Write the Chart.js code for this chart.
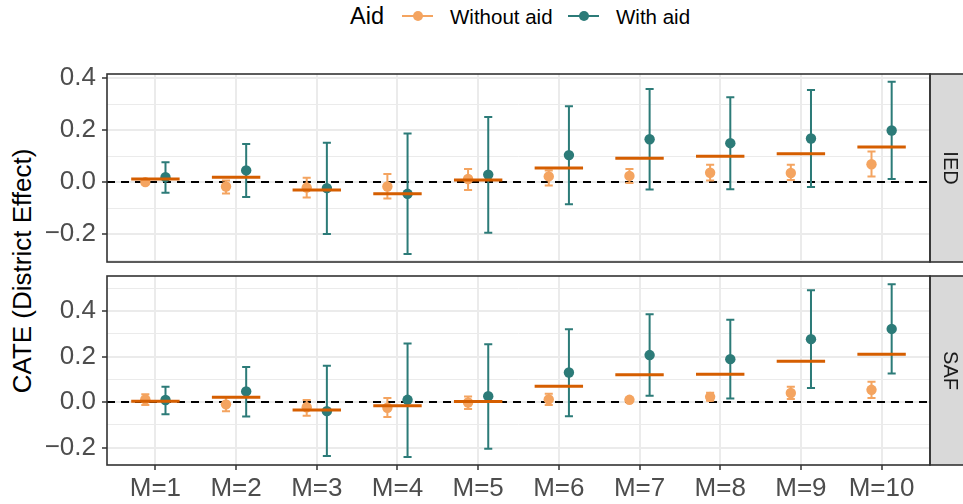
<!DOCTYPE html>
<html>
<head>
<meta charset="utf-8">
<title>CATE by number of districts</title>
<script src="https://cdn.jsdelivr.net/npm/chart.js@4/dist/chart.umd.min.js"></script>
<style>
  html, body { margin: 0; padding: 0; background: #fff; }
  #wrap { position: relative; width: 963px; height: 504px; overflow: hidden;
          font-family: "Liberation Sans", Arial, Helvetica, sans-serif; }
  canvas { position: absolute; left: 0; }
  .lg { position: absolute; white-space: nowrap; line-height: 1; color: #000; }
  .key { position: absolute; width: 31px; height: 2px; }
  .key i { position: absolute; left: 11px; top: -4px; width: 10px; height: 10px; border-radius: 50%; }
  #ytitle { position: absolute; left: 22px; top: 271px; white-space: nowrap; color: #000;
            font-size: 26px; line-height: 1; transform: translate(-50%, -50%) rotate(-90deg); }
</style>
</head>
<body>
<div id="wrap">
  <span class="lg" style="left:350px;top:5px;font-size:23.5px;">Aid</span>
  <span class="key" style="left:402px;top:15px;background:#F4A460;"><i style="background:#F4A460;"></i></span>
  <span class="lg" style="left:450px;top:6.5px;font-size:20.5px;">Without aid</span>
  <span class="key" style="left:568px;top:15px;background:#2C7B78;"><i style="background:#2C7B78;"></i></span>
  <span class="lg" style="left:616px;top:6.5px;font-size:20.5px;">With aid</span>
  <div id="ytitle">CATE (District Effect)</div>
  <canvas id="ied" width="963" height="280" style="top:0px;"></canvas>
  <canvas id="saf" width="963" height="248" style="top:256px;"></canvas>
</div>
<script>
// Categories: number of districts M
const CATEGORIES = ['M=1', 'M=2', 'M=3', 'M=4', 'M=5', 'M=6', 'M=7', 'M=8', 'M=9', 'M=10'];

// IED panel
const IED_WITHOUT    = [0.000, -0.017, -0.021, -0.017, 0.012, 0.022, 0.024, 0.036, 0.035, 0.069];
const IED_WITHOUT_LO = [-0.008, -0.044, -0.059, -0.063, -0.030, -0.013, -0.003, 0.006, 0.008, 0.022];
const IED_WITHOUT_HI = [0.008, 0.006, 0.017, 0.031, 0.051, 0.045, 0.051, 0.067, 0.067, 0.118];
const IED_WITH       = [0.019, 0.045, -0.023, -0.045, 0.029, 0.104, 0.165, 0.150, 0.168, 0.199];
const IED_WITH_LO    = [-0.041, -0.057, -0.200, -0.277, -0.195, -0.085, -0.028, -0.027, -0.019, 0.012];
const IED_WITH_HI    = [0.077, 0.147, 0.152, 0.187, 0.251, 0.292, 0.359, 0.327, 0.355, 0.387];
const IED_POOLED     = [0.012, 0.019, -0.030, -0.045, 0.008, 0.054, 0.092, 0.100, 0.109, 0.135];

// SAF panel
const SAF_WITHOUT    = [0.012, -0.010, -0.023, -0.025, -0.002, 0.012, 0.010, 0.023, 0.040, 0.054];
const SAF_WITHOUT_LO = [-0.013, -0.040, -0.060, -0.066, -0.031, -0.013, 0.005, 0.006, 0.013, 0.018];
const SAF_WITHOUT_HI = [0.034, 0.021, 0.009, 0.018, 0.025, 0.037, 0.015, 0.041, 0.067, 0.089];
const SAF_WITH       = [0.009, 0.047, -0.040, 0.010, 0.026, 0.130, 0.207, 0.189, 0.277, 0.322];
const SAF_WITH_LO    = [-0.054, -0.063, -0.237, -0.242, -0.205, -0.062, 0.028, 0.016, 0.062, 0.126];
const SAF_WITH_HI    = [0.067, 0.154, 0.160, 0.258, 0.255, 0.321, 0.387, 0.362, 0.492, 0.519];
const SAF_POOLED     = [0.004, 0.021, -0.035, -0.016, 0.003, 0.070, 0.120, 0.122, 0.180, 0.210];

// Axis ticks (major ones get labels, minor ones only a light grid line)
const IED_TICKS = [-0.3, -0.2, -0.1, 0.0, 0.1, 0.2, 0.3, 0.4];
const SAF_TICKS = [-0.2, -0.1, 0.0, 0.1, 0.2, 0.3, 0.4, 0.5];
const IED_RANGE = [-0.3077, 0.4165];
const SAF_RANGE = [-0.277, 0.555];

const FONT = '"Liberation Sans", Arial, Helvetica, sans-serif';
const COL_WITHOUT = '#F4A460';
const COL_WITH = '#2C7B78';
const COL_POOLED = '#D55E00';
const DODGE = 0.125;   // horizontal offset of the two groups
const HALF_SEG = 0.3;  // half length of the pooled-estimate bar
const CAP = 0.05;      // half width of error bar caps

const isMajor = v => Math.abs(v / 0.2 - Math.round(v / 0.2)) < 1e-6;
const fmt = v => (v < 0 ? '\u2212' : '') + Math.abs(v).toFixed(1);

const panelDecor = {
  id: 'panelDecor',
  beforeDatasetsDraw(chart) {
    const { ctx, chartArea: a, scales: { y } } = chart;
    const py = y.getPixelForValue(0);
    ctx.save();
    ctx.beginPath();
    ctx.rect(a.left, a.top, a.right - a.left, a.bottom - a.top);
    ctx.clip();
    ctx.strokeStyle = '#000';
    ctx.lineWidth = 2;
    ctx.setLineDash([8, 6]);
    ctx.beginPath();
    ctx.moveTo(a.left, py);
    ctx.lineTo(a.right, py);
    ctx.stroke();
    ctx.restore();
  },
  beforeDatasetDraw(chart, args) {
    const ds = chart.data.datasets[args.index];
    if (!ds.errLo) return;
    const { ctx, scales: { x, y } } = chart;
    ctx.save();
    ctx.strokeStyle = ds.backgroundColor;
    ctx.lineWidth = 2;
    ds.data.forEach((p, i) => {
      const px = x.getPixelForValue(p.x);
      const x0 = x.getPixelForValue(p.x - CAP);
      const x1 = x.getPixelForValue(p.x + CAP);
      const yl = y.getPixelForValue(ds.errLo[i]);
      const yh = y.getPixelForValue(ds.errHi[i]);
      ctx.beginPath();
      ctx.moveTo(px, yl); ctx.lineTo(px, yh);
      ctx.moveTo(x0, yl); ctx.lineTo(x1, yl);
      ctx.moveTo(x0, yh); ctx.lineTo(x1, yh);
      ctx.stroke();
    });
    ctx.restore();
  },
  afterDraw(chart, args, opts) {
    const { ctx, chartArea: a } = chart;
    ctx.save();
    // facet strip on the right
    ctx.fillStyle = '#D9D9D9';
    ctx.fillRect(a.right, a.top, 45, a.bottom - a.top);
    ctx.strokeStyle = '#333';
    ctx.lineWidth = 1.6;
    ctx.strokeRect(a.right, a.top, 45, a.bottom - a.top);
    // panel border
    ctx.strokeRect(a.left, a.top, a.right - a.left, a.bottom - a.top);
    ctx.translate(950, (a.top + a.bottom) / 2);
    ctx.rotate(Math.PI / 2);
    ctx.fillStyle = '#1A1A1A';
    ctx.font = '20px ' + FONT;
    ctx.textAlign = 'center';
    ctx.textBaseline = 'middle';
    ctx.fillText(opts.label, 0, 0);
    ctx.restore();
  }
};

function points(values, offset) {
  return values.map((v, i) => ({ x: i + offset, y: v }));
}

function pooledBars(values) {
  const out = [];
  values.forEach((v, i) => {
    out.push({ x: i - HALF_SEG, y: v }, { x: i + HALF_SEG, y: v }, { x: i + HALF_SEG, y: null });
  });
  return out;
}

function panel(canvasId, s, ticks, range, label, padTop, xHeight, showX) {
  return new Chart(document.getElementById(canvasId), {
    type: 'scatter',
    data: {
      datasets: [
        { type: 'line', label: 'Pooled', data: pooledBars(s.pooled), borderColor: COL_POOLED,
          borderWidth: 3, pointRadius: 0, spanGaps: false, fill: false },
        { label: 'With aid', data: points(s.withAid, DODGE), backgroundColor: COL_WITH,
          borderWidth: 0, pointRadius: 5.2, errLo: s.withLo, errHi: s.withHi },
        { label: 'Without aid', data: points(s.without, -DODGE), backgroundColor: COL_WITHOUT,
          borderWidth: 0, pointRadius: 5.2, errLo: s.withoutLo, errHi: s.withoutHi }
      ]
    },
    options: {
      responsive: false,
      animation: false,
      devicePixelRatio: 1,
      layout: { padding: { top: padTop, right: 33, left: 0, bottom: 0 } },
      plugins: { legend: { display: false }, tooltip: { enabled: false }, panelDecor: { label } },
      scales: {
        x: {
          type: 'linear', min: -0.6, max: 9.6,
          afterBuildTicks: sc => { sc.ticks = CATEGORIES.map((_, i) => ({ value: i })); },
          afterFit: sc => { sc.height = xHeight; sc.paddingLeft = 0; sc.paddingRight = 0; },
          border: { display: false },
          grid: { color: '#EBEBEB', lineWidth: 2, drawTicks: showX, tickLength: 5,
                  tickColor: '#333', tickWidth: 1.5 },
          ticks: { display: showX, autoSkip: false, maxRotation: 0, padding: 3, color: '#4D4D4D',
                   font: { size: 26, family: FONT }, callback: v => CATEGORIES[v] }
        },
        y: {
          type: 'linear', min: range[0], max: range[1],
          afterBuildTicks: sc => { sc.ticks = ticks.map(v => ({ value: v })); },
          afterFit: sc => { sc.width = 107; sc.paddingTop = 0; sc.paddingBottom = 0; },
          border: { display: false },
          grid: {
            color: '#EBEBEB',
            lineWidth: c => (c.tick && isMajor(c.tick.value)) ? 2 : 1,
            tickLength: 5,
            tickWidth: 1.5,
            tickColor: c => (c.tick && isMajor(c.tick.value)) ? '#333' : 'rgba(0,0,0,0)'
          },
          ticks: { autoSkip: false, padding: 6, color: '#4D4D4D', font: { size: 26, family: FONT },
                   callback: v => isMajor(v) ? fmt(v) : '' }
        }
      }
    },
    plugins: [panelDecor]
  });
}

panel('ied', {
  without: IED_WITHOUT, withoutLo: IED_WITHOUT_LO, withoutHi: IED_WITHOUT_HI,
  withAid: IED_WITH, withLo: IED_WITH_LO, withHi: IED_WITH_HI, pooled: IED_POOLED
}, IED_TICKS, IED_RANGE, 'IED', 74, 18, false);

panel('saf', {
  without: SAF_WITHOUT, withoutLo: SAF_WITHOUT_LO, withoutHi: SAF_WITHOUT_HI,
  withAid: SAF_WITH, withLo: SAF_WITH_LO, withHi: SAF_WITH_HI, pooled: SAF_POOLED
}, SAF_TICKS, SAF_RANGE, 'SAF', 20, 39, true);
</script>
</body>
</html>
